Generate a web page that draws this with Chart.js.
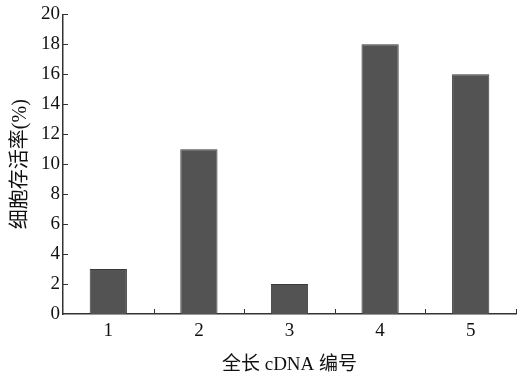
<!DOCTYPE html>
<html>
<head>
<meta charset="utf-8">
<script src="https://cdn.jsdelivr.net/npm/chart.js@4/dist/chart.umd.min.js"></script>
<style>
  html, body { margin: 0; padding: 0; background: #fff; }
  #wrap { width: 517px; height: 376px; }
</style>
</head>
<body>
<div id="wrap"><canvas id="bar_chart" width="517" height="376"></canvas></div>
<script>
// cDNA numbers and cell survival (%)
const cdna_ids = ['1', '2', '3', '4', '5'];
const survival = [3, 11, 2, 18, 16];
const y_ticks = [0, 2, 4, 6, 8, 10, 12, 14, 16, 18, 20];

const FONT = '"Liberation Serif", "Noto Sans CJK SC", serif';

// short inward ticks, like the original figure
const innerTicks = {
    id: 'innerTicks',
    afterDraw(chart) {
        const ctx = chart.ctx;
        const x = chart.scales.x, y = chart.scales.y;
        const area = chart.chartArea;
        ctx.save();
        ctx.strokeStyle = '#333';
        ctx.lineWidth = 1;
        ctx.beginPath();
        y_ticks.forEach(v => {
            if (v === 0) return;
            const py = Math.round(y.getPixelForValue(v)) + 0.5;
            ctx.moveTo(area.left, py);
            ctx.lineTo(area.left + 5, py);
        });
        for (let i = 1; i <= cdna_ids.length; i++) {
            const px = Math.round(x.getPixelForValue(i - 0.5)) + 0.5;
            ctx.moveTo(px, area.bottom);
            ctx.lineTo(px, area.bottom - 5);
        }
        ctx.stroke();
        ctx.restore();
    }
};

const ctx = document.getElementById('bar_chart').getContext('2d');
const myChart = new Chart(ctx, {
    type: 'bar',
    data: {
        labels: cdna_ids,
        datasets: [{
            data: survival,
            backgroundColor: '#535353',
            borderColor: '#3a3a3a',
            borderWidth: 1,
            barPercentage: 37 / 90,
            categoryPercentage: 1
        }]
    },
    options: {
        responsive: false,
        animation: false,
        layout: { padding: { top: 12, right: 1, left: 0, bottom: 0 } },
        plugins: { legend: { display: false }, tooltip: { enabled: false } },
        scales: {
            x: {
                grid: { display: false, drawTicks: false },
                border: { display: true, color: '#333', width: 1.5 },
                ticks: { color: '#111', padding: 6, font: { family: FONT, size: 19 } },
                title: {
                    display: true,
                    text: '全长 cDNA 编号',
                    color: '#111',
                    padding: { top: 3, bottom: 0 },
                    font: { family: FONT, size: 19 }
                },
                afterFit(scale) { scale.height = 62; }
            },
            y: {
                min: 0,
                max: 20,
                grid: { display: false, drawTicks: false },
                border: { display: true, color: '#333', width: 1.5 },
                afterBuildTicks(scale) { scale.ticks = y_ticks.map(v => ({ value: v })); },
                ticks: { color: '#111', padding: 3, font: { family: FONT, size: 19 } },
                title: {
                    display: true,
                    text: '细胞存活率(%)',
                    color: '#111',
                    padding: { top: 9, bottom: 0 },
                    font: { family: FONT, size: 20 }
                },
                afterFit(scale) { scale.width = 63; }
            }
        }
    },
    plugins: [innerTicks]
});
</script>
</body>
</html>
